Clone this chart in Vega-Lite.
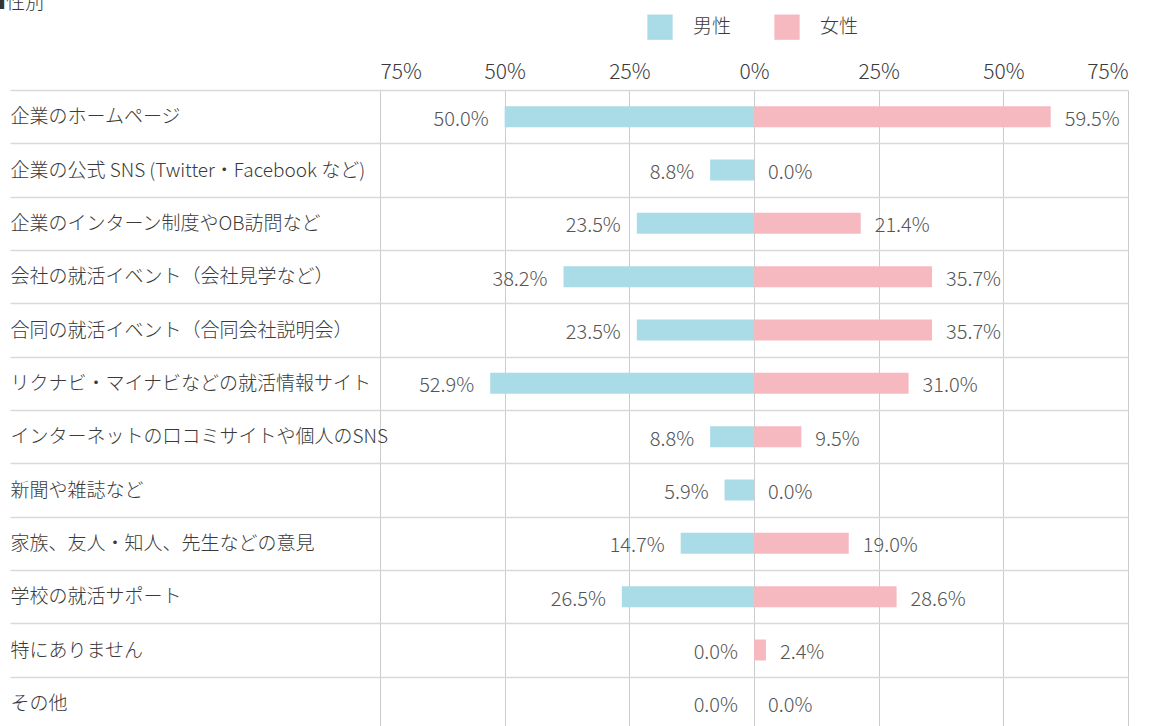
{
  "$schema": "https://vega.github.io/schema/vega-lite/v6.json",
  "width": 748,
  "height": 640,
  "autosize": {"type": "none"},
  "padding": {"left": 380, "top": 90, "right": 21, "bottom": 0},
  "config": {
    "font": "Noto Sans CJK JP",
    "view": {"stroke": null},
    "text": {"font": "Noto Sans CJK JP"}
  },
  "title": {
    "text": "■性別",
    "anchor": "start",
    "frame": "group",
    "dx": -393,
    "offset": 1,
    "fontSize": 19,
    "fontWeight": 300,
    "color": "#333333"
  },
  "data": {
    "values": [
      {"item": "企業のホームページ", "order": 1, "gender": "男性", "share": 0.5, "x": -0.5},
      {"item": "企業のホームページ", "order": 1, "gender": "女性", "share": 0.595, "x": 0.595},
      {"item": "企業の公式 SNS (Twitter・Facebook など)", "order": 2, "gender": "男性", "share": 0.088, "x": -0.088},
      {"item": "企業の公式 SNS (Twitter・Facebook など)", "order": 2, "gender": "女性", "share": 0.0, "x": 0.0},
      {"item": "企業のインターン制度やOB訪問など", "order": 3, "gender": "男性", "share": 0.235, "x": -0.235},
      {"item": "企業のインターン制度やOB訪問など", "order": 3, "gender": "女性", "share": 0.214, "x": 0.214},
      {"item": "会社の就活イベント（会社見学など）", "order": 4, "gender": "男性", "share": 0.382, "x": -0.382},
      {"item": "会社の就活イベント（会社見学など）", "order": 4, "gender": "女性", "share": 0.357, "x": 0.357},
      {"item": "合同の就活イベント（合同会社説明会）", "order": 5, "gender": "男性", "share": 0.235, "x": -0.235},
      {"item": "合同の就活イベント（合同会社説明会）", "order": 5, "gender": "女性", "share": 0.357, "x": 0.357},
      {"item": "リクナビ・マイナビなどの就活情報サイト", "order": 6, "gender": "男性", "share": 0.529, "x": -0.529},
      {"item": "リクナビ・マイナビなどの就活情報サイト", "order": 6, "gender": "女性", "share": 0.31, "x": 0.31},
      {"item": "インターネットの口コミサイトや個人のSNS", "order": 7, "gender": "男性", "share": 0.088, "x": -0.088},
      {"item": "インターネットの口コミサイトや個人のSNS", "order": 7, "gender": "女性", "share": 0.095, "x": 0.095},
      {"item": "新聞や雑誌など", "order": 8, "gender": "男性", "share": 0.059, "x": -0.059},
      {"item": "新聞や雑誌など", "order": 8, "gender": "女性", "share": 0.0, "x": 0.0},
      {"item": "家族、友人・知人、先生などの意見", "order": 9, "gender": "男性", "share": 0.147, "x": -0.147},
      {"item": "家族、友人・知人、先生などの意見", "order": 9, "gender": "女性", "share": 0.19, "x": 0.19},
      {"item": "学校の就活サポート", "order": 10, "gender": "男性", "share": 0.265, "x": -0.265},
      {"item": "学校の就活サポート", "order": 10, "gender": "女性", "share": 0.286, "x": 0.286},
      {"item": "特にありません", "order": 11, "gender": "男性", "share": 0.0, "x": 0.0},
      {"item": "特にありません", "order": 11, "gender": "女性", "share": 0.024, "x": 0.024},
      {"item": "その他", "order": 12, "gender": "男性", "share": 0.0, "x": 0.0},
      {"item": "その他", "order": 12, "gender": "女性", "share": 0.0, "x": 0.0}
    ]
  },
  "encoding": {
    "y": {
      "field": "item",
      "type": "nominal",
      "sort": {"field": "order", "op": "min"},
      "scale": {"paddingInner": 0, "paddingOuter": 0},
      "axis": {
        "title": null,
        "orient": "left",
        "domain": false,
        "tickBand": "extent",
        "ticks": true,
        "tickSize": 370,
        "tickColor": "#d9d9d9",
        "tickWidth": 1.5,
        "grid": true,
        "gridColor": "#d9d9d9",
        "gridWidth": 1.5,
        "labelAlign": "left",
        "labelPadding": 0,
        "labelFontSize": 19,
        "labelFontWeight": 300,
        "labelColor": "#3a3a3a",
        "labelLimit": 400
      }
    }
  },
  "layer": [
    {
      "mark": {"type": "bar", "height": 21},
      "encoding": {
        "x": {
          "field": "x",
          "type": "quantitative",
          "stack": null,
          "scale": {"domain": [-0.75, 0.75], "nice": false},
          "axis": {
            "title": null,
            "orient": "top",
            "values": [-0.75, -0.5, -0.25, 0, 0.25, 0.5, 0.75],
            "labelExpr": "format(abs(datum.value), '.0%')",
            "domain": false,
            "ticks": false,
            "grid": true,
            "gridColor": "#cccccc",
            "gridWidth": 1,
            "labelPadding": 8,
            "labelFontSize": 21,
            "labelFontWeight": 300,
            "labelColor": "#3a3a3a"
          }
        },
        "color": {
          "field": "gender",
          "type": "nominal",
          "scale": {"domain": ["男性", "女性"], "range": ["#a9dce6", "#f7b9c0"]},
          "legend": {
            "title": null,
            "orient": "none",
            "direction": "horizontal",
            "legendX": 267,
            "legendY": -76,
            "symbolType": "square",
            "symbolSize": 640,
            "symbolStrokeWidth": 0,
            "symbolOpacity": 1,
            "labelFontSize": 19,
            "labelFontWeight": 300,
            "labelColor": "#3a3a3a",
            "labelOffset": 20,
            "columnPadding": 42
          }
        }
      }
    },
    {
      "transform": [{"filter": "datum.gender === '男性'"}],
      "mark": {"type": "text", "align": "right", "baseline": "middle", "dx": -16, "dy": 3, "fontSize": 20, "fontWeight": 300, "color": "#555555"},
      "encoding": {
        "x": {"field": "x", "type": "quantitative"},
        "text": {"field": "share", "type": "quantitative", "format": ".1%"}
      }
    },
    {
      "transform": [{"filter": "datum.gender === '女性'"}],
      "mark": {"type": "text", "align": "left", "baseline": "middle", "dx": 14, "dy": 3, "fontSize": 20, "fontWeight": 300, "color": "#555555"},
      "encoding": {
        "x": {"field": "x", "type": "quantitative"},
        "text": {"field": "share", "type": "quantitative", "format": ".1%"}
      }
    }
  ]
}
